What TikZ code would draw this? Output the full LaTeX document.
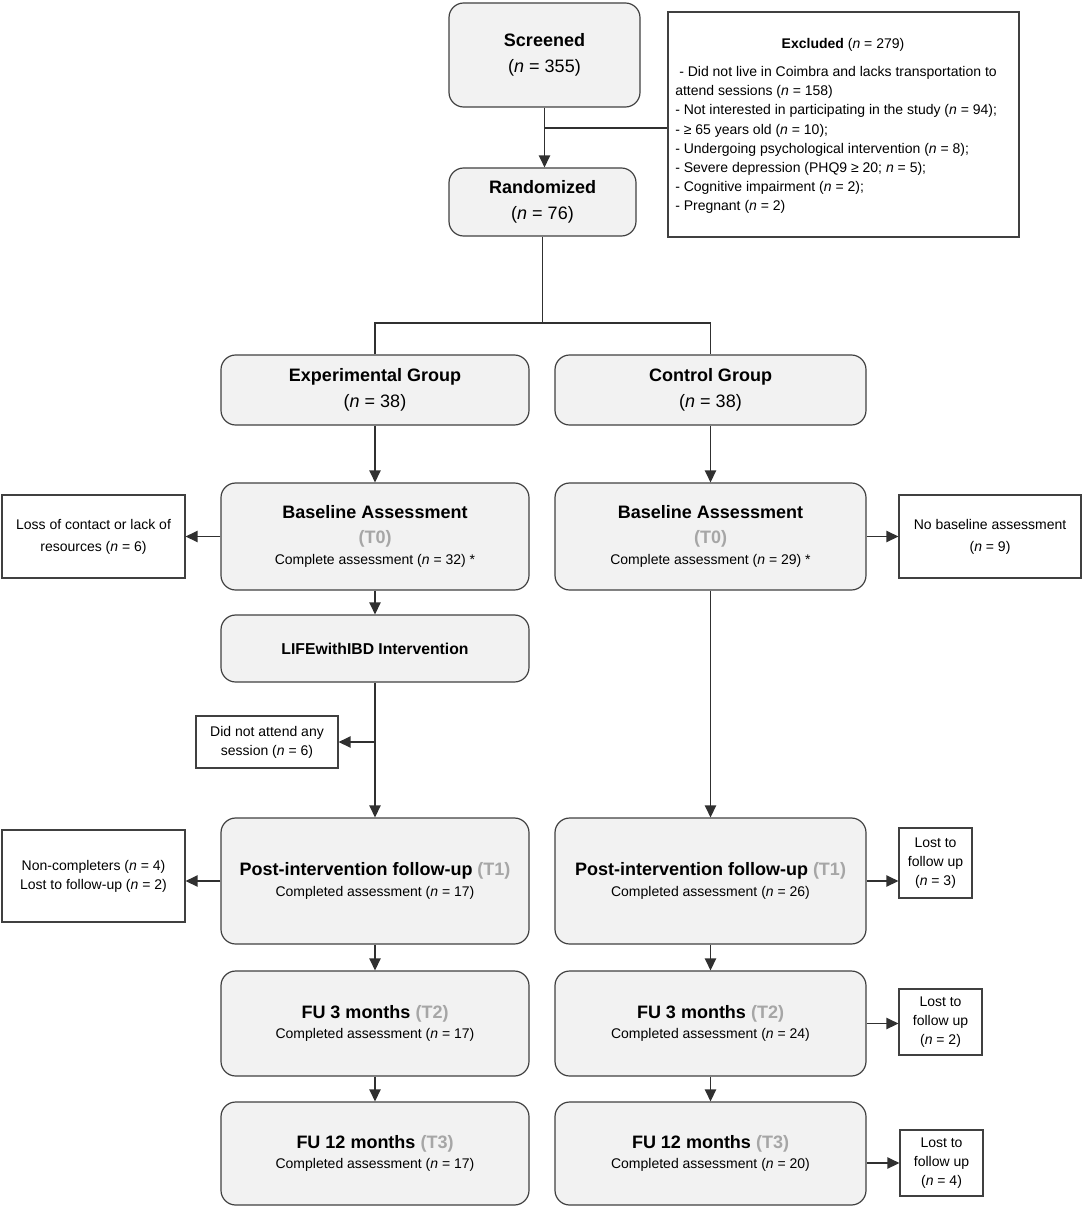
\documentclass[tikz,border=0pt]{standalone}
\usepackage{fontspec}
\setmainfont{Liberation Sans}
\usetikzlibrary{arrows.meta}
\definecolor{bfill}{HTML}{F2F2F2}
\definecolor{bdraw}{HTML}{404040}
\definecolor{lcol}{HTML}{303030}
\definecolor{tgray}{HTML}{A6A6A6}
\newcommand\tg[1]{\textcolor{tgray}{#1}}
\newcommand\nn{\textit{n}}
\newcommand\hdfont{\fontsize{13.5}{18.5}\selectfont\bfseries}
\newcommand\bdfont{\fontsize{10.5}{14.4}\selectfont\mdseries}
\newcommand\lifefont{\fontsize{11.8}{14}\selectfont\bfseries}
\tikzset{
  wh/.style 2 args={minimum width=#1*0.75pt, minimum height=#2*0.75pt},
  rbox/.style={draw=bdraw, fill=bfill, rounded corners=11pt, line width=0.9pt, align=center, inner sep=0pt, font=\hdfont},
  sbox/.style={draw=bdraw, fill=white, line width=0.9pt, align=center, inner sep=0pt, font=\bdfont},
  txt/.style={inner sep=0pt, font=\bdfont},
  ln/.style={draw=lcol, line width=1pt},
  arr/.style={ln, -{Triangle[length=9pt,width=8.5pt]}},
}
\begin{document}
\begin{tikzpicture}[x=0.75pt,y=-0.75pt]
\useasboundingbox (0,0) rectangle (1084,1209);
% top
\node[rbox, wh={191}{104}] (screened) at (544.5,55) {Screened\\[1.5pt]{\mdseries(\nn{} = 355)}};
\node[rbox, wh={187}{68}] (randomized) at (542.5,202) {Randomized\\[1.5pt]{\mdseries(\nn{} = 76)}};
\node[sbox, wh={351}{225}] (excluded) at (843.5,124.5) {};
\node[txt] (exttl) at (843,45) {\textbf{Excluded} (\nn{} = 279)};
\node[txt, align=left, anchor=north west] (exlist) at (675,66) {\hspace{3pt}- Did not live in Coimbra and lacks transportation to\\attend sessions (\nn{} = 158)\\- Not interested in participating in the study (\nn{} = 94);\\- ≥ 65 years old (\nn{} = 10);\\- Undergoing psychological intervention (\nn{} = 8);\\- Severe depression (PHQ9 ≥ 20; \nn{} = 5);\\- Cognitive impairment (\nn{} = 2);\\- Pregnant (\nn{} = 2)};
% groups
\node[rbox, wh={308}{70}] (exp) at (375,390) {Experimental Group\\[1pt]{\mdseries(\nn{} = 38)}};
\node[rbox, wh={311}{70}] (ctl) at (710.5,390) {Control Group\\[1pt]{\mdseries(\nn{} = 38)}};
% baseline
\node[rbox, wh={308}{107}] (baseL) at (375,536.5) {Baseline Assessment\\\tg{(T0)}\\[-3pt]{\bdfont Complete assessment (\nn{} = 32) *}};
\node[rbox, wh={311}{107}] (baseR) at (710.5,536.5) {Baseline Assessment\\\tg{(T0)}\\[-3pt]{\bdfont Complete assessment (\nn{} = 29) *}};
\node[sbox, wh={183}{83}] (loss) at (93.5,536.5) {Loss of contact or lack of\\[2pt]resources (\nn{} = 6)};
\node[sbox, wh={182}{83}] (nobase) at (990,536.5) {No baseline assessment\\[2pt](\nn{} = 9)};
% intervention
\node[rbox, wh={308}{67}, font=\lifefont] (life) at (375,648.5) {LIFEwithIBD Intervention};
\node[sbox, wh={142}{52}] (dna) at (267,742) {Did not attend any\\session (\nn{} = 6)};
% post
\node[rbox, wh={308}{126}] (postL) at (375,881) {Post-intervention follow-up \tg{(T1)}\\[-3pt]{\bdfont Completed assessment (\nn{} = 17)}};
\node[rbox, wh={311}{126}] (postR) at (710.5,881) {Post-intervention follow-up \tg{(T1)}\\[-3pt]{\bdfont Completed assessment (\nn{} = 26)}};
\node[sbox, wh={183}{92}] (noncomp) at (93.5,876) {Non-completers (\nn{} = 4)\\Lost to follow-up (\nn{} = 2)};
\node[sbox, wh={73}{70}] (lost1) at (935.5,863) {Lost to\\follow up\\(\nn{} = 3)};
% FU3
\node[rbox, wh={308}{105}] (fu3L) at (375,1023.5) {FU 3 months \tg{(T2)}\\[-3pt]{\bdfont Completed assessment (\nn{} = 17)}};
\node[rbox, wh={311}{105}] (fu3R) at (710.5,1023.5) {FU 3 months \tg{(T2)}\\[-3pt]{\bdfont Completed assessment (\nn{} = 24)}};
\node[sbox, wh={83}{66}] (lost2) at (940.5,1022) {Lost to\\follow up\\(\nn{} = 2)};
% FU12
\node[rbox, wh={308}{103}] (fu12L) at (375,1153.5) {FU 12 months \tg{(T3)}\\[-3pt]{\bdfont Completed assessment (\nn{} = 17)}};
\node[rbox, wh={311}{103}] (fu12R) at (710.5,1153.5) {FU 12 months \tg{(T3)}\\[-3pt]{\bdfont Completed assessment (\nn{} = 20)}};
\node[sbox, wh={83}{66}] (lost3) at (941.5,1163) {Lost to\\follow up\\(\nn{} = 4)};
% connectors
\draw[arr] (screened.south) -- (screened.south |- randomized.north);
\coordinate (exj) at (screened.south |- 0,128);
\draw[ln] (exj) -- (excluded.west |- exj);
\coordinate (lvl) at (0,323);
\coordinate (split) at (randomized.south |- lvl);
\draw[ln] (randomized.south) -- (split);
\draw[ln] (exp.north) |- (split) -| (ctl.north);
\draw[arr] (exp.south) -- (baseL.north);
\draw[arr] (ctl.south) -- (baseR.north);
\draw[arr] (baseL.west) -- (loss.east);
\draw[arr] (baseR.east) -- (nobase.west);
\draw[arr] (baseL.south) -- (life.north);
\draw[arr] (life.south) -- (postL.north);
\coordinate (dnaj) at (life.south |- dna.east);
\draw[arr] (dnaj) -- (dna.east);
\draw[arr] (baseR.south) -- (postR.north);
\draw[arr] (postL.west) -- (postL.west -| noncomp.east);
\draw[arr] (postR.east) -- (postR.east -| lost1.west);
\draw[arr] (postL.south) -- (fu3L.north);
\draw[arr] (postR.south) -- (fu3R.north);
\draw[arr] (fu3R.east) -- (fu3R.east -| lost2.west);
\draw[arr] (fu3L.south) -- (fu12L.north);
\draw[arr] (fu3R.south) -- (fu12R.north);
\draw[arr] (fu12R.east |- lost3.west) -- (lost3.west);
\end{tikzpicture}
\end{document}
